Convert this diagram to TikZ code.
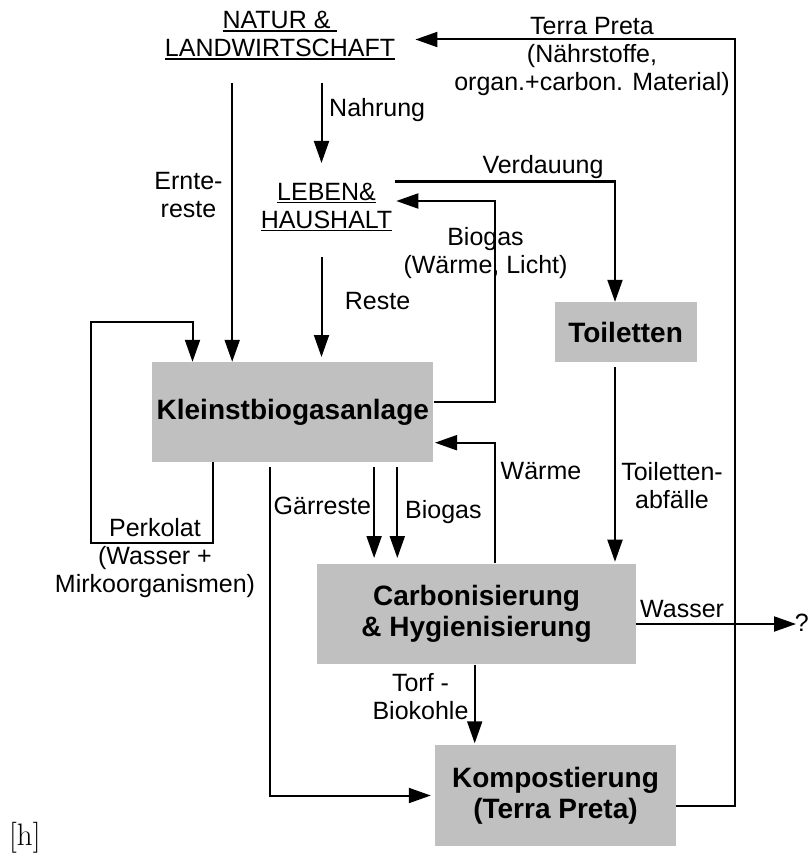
\documentclass[tikz,border=0pt]{standalone}
\usepackage{fontspec}
\newfontfamily\arialf{Liberation Sans}
\usetikzlibrary{arrows.meta}

\definecolor{boxgray}{RGB}{192,192,192}
\newcommand\undl[1]{\setbox0\hbox{#1}\rlap{\rule[-2.7pt]{\wd0}{1.4pt}}\box0}

\tikzset{
  lbl/.style={font=\arialf\fontsize{25}{28}\selectfont, inner sep=0pt, align=center},
  blk/.style={fill=boxgray, inner sep=0pt, align=center, font=\arialf\bfseries\fontsize{28}{31}\selectfont},
  flow/.style={line width=2pt},
  arr/.style={flow, -{Triangle[length=22pt,width=15pt]}}
}

\begin{document}
\begin{tikzpicture}[x=1pt, y=-1pt]
  \useasboundingbox (0,0) rectangle (809,853);

  % boxes
  \node[blk, minimum width=281pt, minimum height=100pt]     (kleinst) at (292.8,412)  {Kleinstbiogasanlage};
  \node[blk, minimum width=142pt, minimum height=60pt]      (toil)    at (625.6,332)  {Toiletten};
  \node[blk, minimum width=318.4pt, minimum height=100.8pt] (carb)    at (476.5,614)  {Carbonisierung\\\& Hygienisierung};
  \node[blk, minimum width=241pt, minimum height=101pt]     (komp)    at (555.5,795.5) {Kompostierung\\(Terra Preta)};

  % labels
  \node[lbl, anchor=north]      (natur)  at (280,11.5)  {\undl{NATUR \&\ }\\\undl{LANDWIRTSCHAFT}};
  \node[lbl, anchor=north]      (leben)  at (326.5,183) {\undl{LEBEN\&}\\\undl{HAUSHALT}};
  \node[lbl, anchor=north]      (tplbl)  at (592,17.5)  {Terra Preta\\(Nährstoffe,\\organ.+carbon. Material)};
  \node[lbl, anchor=north west] (nahr)   at (329,98)    {Nahrung};
  \node[lbl, anchor=north]      (ernte)  at (188.5,172) {Ernte-\\reste};
  \node[lbl, anchor=north]      (verd)   at (543,155)   {Verdauung};
  \node[lbl, anchor=north]      (bglbl)  at (485.5,227) {Biogas\\(Wärme, Licht)};
  \node[lbl, anchor=north west] (reste)  at (344.7,292) {Reste};
  \node[lbl, anchor=north]      (perk)   at (155,518)   {Perkolat\\(Wasser +\\Mirkoorganismen)};
  \node[lbl, anchor=north west] (gaer)   at (273.5,497) {Gärreste};
  \node[lbl, anchor=north west] (bgdown) at (405,500)   {Biogas};
  \node[lbl, anchor=north west] (waerme) at (500.5,462) {Wärme};
  \node[lbl, anchor=north]      (toilab) at (672,462)   {Toiletten-\\abfälle};
  \node[lbl, anchor=north west] (wasser) at (640,600)   {Wasser};
  \node[lbl, anchor=north]      (torf)   at (420.5,673) {Torf -\\Biokohle};
  \node[lbl, anchor=north east] (quest)  at (809,614)   {?};
  \node[anchor=north west, inner sep=0pt, font=\fontsize{31}{36}\selectfont] (hmark) at (9,821.7) {[h]};

  % free ends and bends
  \coordinate (tptip)     at (415.4,39.5);
  \coordinate (tpcorner)  at (735.3,39.5);
  \coordinate (nahrtop)   at (321.5,83);
  \coordinate (nahrtip)   at (321.5,163);
  \coordinate (erntetop)  at (232.2,83);
  \coordinate (verdstart) at (394.7,181.5);
  \coordinate (toilcol)   at (615,0);
  \coordinate (bgturn)    at (495.4,201);
  \coordinate (bgtip)     at (396.3,201);
  \coordinate (restetop)  at (321.5,257);
  \coordinate (restetip)  at (321.5,357);
  \coordinate (perkout)   at (212.6,0);
  \coordinate (perkin)    at (192.5,0);
  \coordinate (perkbl)    at (91.3,543);
  \coordinate (perktl)    at (91.3,322);
  \coordinate (gaertop)   at (269.9,467);
  \coordinate (gaerA)     at (374.1,467);
  \coordinate (gaerAtip)  at (374.1,558);
  \coordinate (gasB)      at (397.3,467);
  \coordinate (gasBtip)   at (397.3,558);
  \coordinate (waermecol) at (495.4,0);
  \coordinate (waermetip) at (435,442.7);
  \coordinate (toilabtop) at (615,367);
  \coordinate (toilabtip) at (615,561.7);
  \coordinate (wassertip) at (796,624);
  \coordinate (torfcol)   at (474.7,0);
  \coordinate (torftip)   at (474.7,743.3);

  % connectors
  \draw[arr] ([yshift=-10.2pt]komp.east) -| (tpcorner) -- (tptip);
  \draw[arr] (nahrtop) -- (nahrtip);
  \draw[arr] (erntetop) -- (erntetop |- kleinst.north);
  \draw[arr] (verdstart) -| (toilcol |- toil.north);
  \draw[arr] ([yshift=10pt]kleinst.east) -| (bgturn) -- (bgtip);
  \draw[arr] (restetop) -- (restetip);
  \draw[arr] (perkout |- kleinst.south) |- (perkbl) -- (perktl) -| (perkin |- kleinst.north);
  \draw[arr] (gaertop) |- ([xshift=-4pt]komp.west);
  \draw[arr] (gaerA) -- (gaerAtip);
  \draw[arr] (gasB) -- (gasBtip);
  \draw[arr] (waermecol |- carb.north) |- (waermetip);
  \draw[arr] (toilabtop) -- (toilabtip);
  \draw[arr] ([yshift=-10pt]carb.east) -- (wassertip);
  \draw[arr] (torfcol |- carb.south) -- (torftip);

\end{tikzpicture}
\end{document}
